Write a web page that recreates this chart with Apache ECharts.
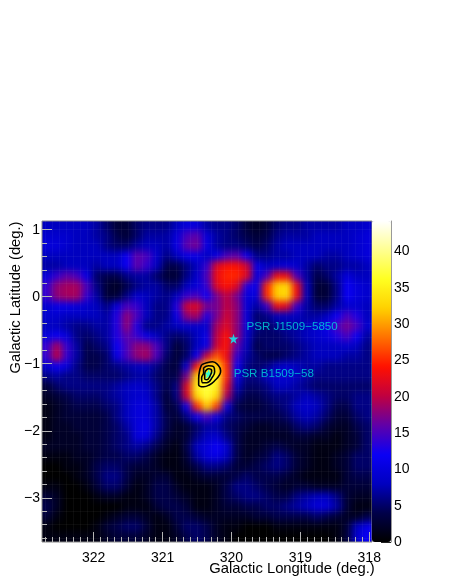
<!DOCTYPE html>
<html><head><meta charset="utf-8">
<style>html,body{margin:0;padding:0;background:#fff}#c{width:451px;height:583px}</style>
<script src="https://cdn.jsdelivr.net/npm/echarts@6/dist/echarts.min.js"></script>
</head><body><div id="c"></div>
<script>
// Map values: rows run top to bottom (latitude high to low), columns left to right (longitude high to low)
const mapRows = [
[8,8,8,8,8,7,5,3,3,5,6,6,6,8,10,10,7,6,6,5,3,2,3,5,6,6,7,7,7,7,8,8,9],
[9,9,9,8,8,7,6,4,3,5,7,7,7,10,15,16,10,7,6,5,4,3,4,6,7,7,7,8,8,8,8,9,10],
[10,10,9,8,8,8,6,5,5,7,8,8,7,11,16,17,11,7,6,6,5,4,5,7,8,8,8,8,8,8,8,9,10],
[8,8,8,8,8,8,8,8,12,16,15,9,6,8,11,11,8,11,15,16,12,6,6,7,7,8,8,8,7,7,8,9,10],
[7,7,8,8,8,7,8,8,12,16,14,8,4,4,6,8,14,22,24,24,21,11,8,9,10,9,7,5,6,6,7,7,8],
[10,14,16,15,11,5,4,4,6,7,7,5,3,3,6,9,15,23,25,25,22,10,15,23,23,15,7,4,5,7,10,8,8],
[14,18,19,19,15,6,3,2,4,6,7,7,5,5,8,10,14,22,24,22,13,11,25,32,33,23,8,3,3,6,12,10,9],
[14,18,19,19,14,7,3,3,6,9,8,7,6,8,14,15,12,17,20,17,10,10,25,32,33,23,8,3,3,6,12,10,9],
[9,11,11,10,9,8,6,10,15,14,8,6,6,13,21,22,17,17,20,18,10,7,14,23,22,14,7,5,5,7,9,9,8],
[9,9,8,8,8,8,7,13,18,15,8,6,6,11,18,19,13,17,21,18,10,5,6,8,8,8,7,7,8,12,15,13,8],
[8,8,7,6,6,7,7,13,18,13,6,6,7,8,9,9,9,19,22,18,10,6,5,6,7,7,8,9,11,15,17,15,9],
[10,12,10,6,5,6,7,13,16,14,11,8,6,5,6,8,11,20,24,18,9,5,5,5,6,7,8,9,10,13,15,12,7],
[14,19,14,7,4,5,6,12,15,18,18,15,6,3,5,8,11,21,24,16,8,4,5,5,5,6,7,8,8,8,9,8,6],
[14,20,14,7,4,4,5,11,15,18,19,15,5,3,5,12,21,27,23,14,7,5,4,4,5,6,7,8,8,8,7,7,6],
[9,12,10,6,4,4,5,6,7,8,8,6,4,3,10,24,33,33,25,12,6,5,6,8,9,8,7,7,6,6,6,6,6],
[6,7,6,6,5,5,5,5,6,7,7,5,4,4,17,32,36,36,25,11,6,6,8,9,9,8,7,6,6,6,6,6,6],
[3,5,6,6,6,6,6,7,8,9,8,6,4,6,22,35,37,35,22,8,5,5,6,8,8,7,6,5,5,5,5,5,5],
[2,3,4,5,5,5,6,7,8,9,9,6,3,6,21,33,37,33,19,6,4,4,5,6,6,7,8,7,6,5,5,6,6],
[1,2,3,4,4,4,5,6,8,10,10,7,3,4,12,25,32,26,11,4,3,3,4,5,6,8,9,8,6,4,4,6,6],
[1,2,3,3,3,3,4,6,8,10,10,7,4,3,6,12,15,11,6,5,4,4,4,4,5,7,8,7,5,3,3,5,6],
[1,2,2,3,3,3,4,5,7,10,11,7,4,2,3,5,7,7,5,4,3,2,2,3,3,5,6,5,3,2,2,4,5],
[1,2,2,2,3,3,4,5,6,10,10,6,3,2,3,6,8,9,6,4,2,2,2,2,2,3,3,2,2,1,2,3,5],
[2,2,2,2,3,3,4,5,6,7,6,4,2,1,4,8,10,12,9,4,2,2,3,4,3,2,2,1,1,1,2,3,5],
[1,1,1,2,2,3,4,4,5,5,4,2,1,1,3,7,10,11,8,4,2,3,4,6,5,3,2,1,1,2,3,5,5],
[0,0,1,1,2,4,5,5,4,3,3,2,1,1,2,4,6,6,5,3,3,4,5,6,5,3,2,1,1,2,3,5,5],
[0,0,0,1,2,4,6,6,4,2,2,3,3,1,1,2,3,3,3,4,5,4,4,4,3,2,1,1,1,1,3,4,4],
[1,1,0,0,1,3,5,5,3,1,2,4,4,2,1,1,1,2,4,6,6,5,4,3,2,3,3,2,2,2,3,3,3],
[3,2,0,0,0,1,2,2,1,1,2,4,4,3,2,1,1,2,4,5,6,6,5,4,4,6,7,8,8,6,3,2,2],
[4,2,0,0,0,0,0,0,1,1,1,3,4,4,3,1,1,2,3,3,4,4,5,5,6,7,8,10,10,7,3,1,1],
[3,1,0,0,0,0,1,2,3,3,2,1,2,4,4,3,2,2,2,2,2,3,3,4,4,4,4,5,4,3,2,2,4],
[1,0,0,0,0,1,3,4,5,5,3,1,1,3,5,5,4,2,1,1,0,0,0,1,1,1,1,1,1,1,3,8,11],
[1,1,1,1,1,1,2,3,3,3,2,1,1,2,4,5,4,2,1,0,0,0,0,0,0,0,0,0,0,1,3,9,12]
];
const lonTicks = [322,321,320,319,318];
const latTicks = [1,0,-1,-2,-3];
const barTicks = [0,5,10,15,20,25,30,35,40];
const lonRange = [317.96,322.75];
const latRange = [-3.66,1.13];
const barMax = 44.2;
const colourStops = ['#000000','#00004a','#0000c0','#0a00f5','#6000a8','#c00040','#ff1000','#ff7000','#ffd000','#ffff20','#ffff90','#ffffff'];
const contourOuter = [[320.433,-1.015],[320.360,-0.985],[320.273,-0.970],[320.200,-1.015],[320.157,-1.104],[320.171,-1.164],[320.244,-1.254],[320.316,-1.313],[320.404,-1.343],[320.476,-1.313],[320.476,-1.224],[320.462,-1.104],[320.433,-1.015]];
const contourMiddle = [[320.404,-1.060],[320.331,-1.030],[320.258,-1.045],[320.244,-1.119],[320.273,-1.194],[320.360,-1.284],[320.418,-1.284],[320.433,-1.209],[320.404,-1.134],[320.404,-1.060]];
const contourInner = [[320.374,-1.104],[320.331,-1.075],[320.287,-1.104],[320.302,-1.164],[320.360,-1.239],[320.389,-1.224],[320.389,-1.164],[320.374,-1.104]];
const pulsars = [
  {name:'PSR J1509\u22125850', lon:319.97, lat:-0.627, off:[8,-12]},
  {name:'PSR B1509\u221258', lon:320.331, lat:-1.149, off:[20,0]}
];

const nCols = mapRows[0].length, nRows = mapRows.length;
const cells = [];
for (let r = -1; r <= nRows; r++) for (let c = -1; c <= nCols; c++) {
  const rr = Math.max(0, Math.min(nRows-1, r)), cc = Math.max(0, Math.min(nCols-1, c));
  cells.push([c+1, nRows-r, mapRows[rr][cc]]);
}
const lonMinor=[], latMinor=[];
for (let i=3180;i<=3227;i++) lonMinor.push(i/10);
for (let i=-18;i<=5;i++) latMinor.push(i/5);
const cats = n => Array.from({length:n},(_,i)=>i);
const line = '#b5b5b5', F = '"Liberation Sans",Arial,sans-serif';
const contour = d => ({type:'line',xAxisIndex:1,yAxisIndex:1,data:d,showSymbol:false,smooth:0.5,zlevel:1,silent:true,
  lineStyle:{color:'#000',width:1.6},animation:false});
const Z = 1;
const plot = {left:42,top:221,width:330,height:321};
const noOuter = {outerBoundsMode:'none',containLabel:false};
const chart = echarts.init(document.getElementById('c'),null,{renderer:'canvas'});
chart.setOption({
  animation:false,
  backgroundColor:'transparent',
  textStyle:{fontFamily:F},
  grid:[
    Object.assign({left:32,top:211,width:350,height:341},noOuter),
    Object.assign({show:true,borderColor:'#8a8a8a',borderWidth:1,backgroundColor:'transparent',zlevel:Z},plot,noOuter),
    Object.assign({left:372,top:221,width:19,height:321,zlevel:Z},noOuter)
  ],
  xAxis:[
    {type:'category',gridIndex:0,data:cats(nCols+2),show:false},
    {type:'value',gridIndex:1,min:lonRange[0],max:lonRange[1],inverse:true,position:'bottom',zlevel:Z,
     name:'Galactic Longitude (deg.)',nameLocation:'middle',nameGap:19,nameMoveOverlap:false,
     nameTextStyle:{fontSize:14.8,color:'#000',fontFamily:F,padding:[0,0,0,170]},
     axisLine:{show:false,onZero:false},splitLine:{show:false},
     axisTick:{inside:true,length:10,lineStyle:{color:line},customValues:lonTicks},
     axisLabel:{fontSize:14,color:'#000',fontFamily:F,margin:9,customValues:lonTicks,formatter:v=>String(v)}},
    {type:'value',gridIndex:1,min:lonRange[0],max:lonRange[1],inverse:true,position:'bottom',zlevel:Z,
     axisLine:{show:false,onZero:false},axisLabel:{show:false},
     splitLine:{show:true,lineStyle:{color:'rgba(255,255,255,0.045)'}},
     axisTick:{inside:true,length:5,lineStyle:{color:line},customValues:lonMinor}},
    {type:'value',gridIndex:2,min:0,max:1,show:false}
  ],
  yAxis:[
    {type:'category',gridIndex:0,data:cats(nRows+2),show:false},
    {type:'value',gridIndex:1,min:latRange[0],max:latRange[1],position:'left',zlevel:Z,
     name:'Galactic Latitude (deg.)',nameLocation:'middle',nameGap:19,nameRotate:90,nameMoveOverlap:false,
     nameTextStyle:{fontSize:14.7,color:'#000',fontFamily:F,padding:[0,0,0,168]},
     axisLine:{show:false,onZero:false},splitLine:{show:false},
     axisTick:{inside:true,length:10,lineStyle:{color:line},customValues:latTicks},
     axisLabel:{fontSize:14,color:'#000',fontFamily:F,margin:2,customValues:latTicks,formatter:v=>String(v).replace('-','\u2212')}},
    {type:'value',gridIndex:1,min:latRange[0],max:latRange[1],position:'left',zlevel:Z,
     axisLine:{show:false,onZero:false},axisLabel:{show:false},
     splitLine:{show:true,lineStyle:{color:'rgba(255,255,255,0.045)'}},
     axisTick:{inside:true,length:5,lineStyle:{color:line},customValues:latMinor}},
    {type:'value',gridIndex:2,min:0,max:barMax,position:'right',zlevel:Z,
     axisLine:{show:true,onZero:false,lineStyle:{color:'#999'}},splitLine:{show:false},
     axisTick:{inside:true,length:10,lineStyle:{color:'#222'},customValues:barTicks},
     axisLabel:{fontSize:14,color:'#000',fontFamily:F,margin:3,customValues:barTicks,formatter:v=>String(v)}}
  ],
  visualMap:{type:'continuous',seriesIndex:0,min:0,max:barMax,calculable:false,realtime:false,hoverLink:false,
    left:372,top:221,itemWidth:19,itemHeight:321,padding:0,text:null,showLabel:false,zlevel:Z,
    inRange:{color:colourStops},textStyle:{color:'transparent',fontSize:1}},
  series:[
    {type:'heatmap',xAxisIndex:0,yAxisIndex:0,data:cells,silent:true,progressive:0,animation:false,emphasis:{disabled:true}},
    contour(contourOuter),contour(contourMiddle),contour(contourInner),
    {type:'scatter',xAxisIndex:1,yAxisIndex:1,zlevel:Z,silent:true,
     symbol:'path://M50,0 L61,35 L98,35 L68,57 L79,91 L50,70 L21,91 L32,57 L2,35 L39,35 Z',symbolSize:10,
     itemStyle:{color:'#00ffff'},
     data:pulsars.map(p=>({value:[p.lon,p.lat],
       label:{show:true,position:'right',distance:0,offset:p.off,formatter:p.name,color:'#00dcdc',fontSize:11.6,fontFamily:F}}))}
  ]
});
const base = chart.getDom().querySelectorAll('canvas')[0];
if (base) { base.style.filter='blur(3.5px)'; base.style.clipPath='inset(221px 79px 41px 42px)'; }
</script></body></html>
